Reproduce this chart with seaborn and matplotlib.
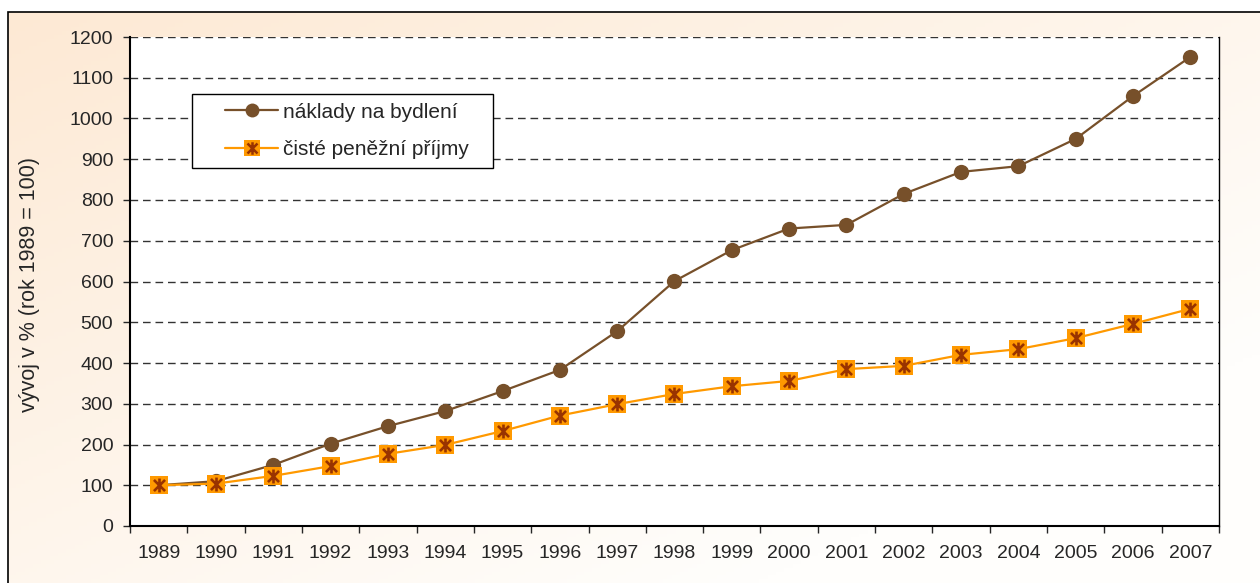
import numpy as np
import matplotlib
matplotlib.use('Agg')
import matplotlib.pyplot as plt
from matplotlib.path import Path
from matplotlib.lines import Line2D
from matplotlib.legend_handler import HandlerTuple
from matplotlib.patches import Rectangle
import seaborn as sns

# data (index, 1989 = 100)
roky = ['1989', '1990', '1991', '1992', '1993', '1994', '1995', '1996', '1997', '1998',
        '1999', '2000', '2001', '2002', '2003', '2004', '2005', '2006', '2007']
naklady = [100, 110, 150, 202, 245, 282, 331, 383, 478, 601,
           677, 730, 739, 815, 869, 883, 950, 1055, 1151]
prijmy = [100, 104, 123, 147, 177, 199, 233, 271, 299, 324,
          343, 356, 385, 393, 420, 434, 461, 496, 533]

hneda = '#77502A'
oranzova = '#FF9900'
tmava = '#993300'

sns.set_style('white')
plt.rcParams['font.family'] = ['Liberation Sans', 'DejaVu Sans']

fig = plt.figure(figsize=(12.6, 5.83), dpi=100)

# pozadi s prechodem a ramecek
bg = fig.add_axes([0, 0, 1, 1], zorder=-1)
bg.set_xlim(0, 1)
bg.set_ylim(0, 1)
bg.axis('off')
gx, gy = np.meshgrid(np.linspace(0, 1, 300), np.linspace(0, 1, 150))
t = np.clip((gx + gy) / 1.6, 0, 1)[..., None]
c1 = np.array([253, 233, 212]) / 255
c2 = np.array([255, 254, 252]) / 255
img = c1 * (1 - t) + c2 * t
x0, y1 = 8 / 1260, 571 / 583
bg.imshow(img, extent=[x0, 1, 0, y1], aspect='auto', origin='upper')
bg.add_patch(Rectangle((x0, -0.01), 1.0, y1 + 0.01, fill=False, ec='black', lw=1.2))

ax = fig.add_axes([130 / 1260, 57 / 583, 1089 / 1260, 489 / 583])
ax.set_facecolor('white')

x = np.arange(len(roky))
sns.lineplot(x=x, y=naklady, color=hneda, lw=1.6, marker='o', markersize=11,
             markeredgecolor=hneda, markeredgewidth=0, ax=ax, zorder=3)
sns.lineplot(x=x, y=prijmy, color=oranzova, lw=1.6, marker='s', markersize=13,
             markeredgecolor=oranzova, markeredgewidth=0, ax=ax, zorder=4)

# hvezdicka uvnitr ctverecku
hv = Path([(-1, -1), (1, 1), (-1, 1), (1, -1), (0, -1.25), (0, 1.25)],
          [Path.MOVETO, Path.LINETO, Path.MOVETO, Path.LINETO, Path.MOVETO, Path.LINETO])
ax.plot(x, prijmy, ls='none', marker=hv, ms=10, mfc='none', mec=tmava, mew=1.9, zorder=5)

ax.set_xlim(-0.5, len(roky) - 0.5)
ax.set_ylim(0, 1200)
ax.set_yticks(range(0, 1201, 100))
ax.set_xticks(x)
ax.set_xticklabels(roky)
ax.set_xticks(np.arange(-0.5, len(roky), 1), minor=True)
ax.tick_params(axis='x', which='major', length=0, pad=14, labelsize=14)
ax.tick_params(axis='x', which='minor', length=5, width=1, direction='out', bottom=True)
ax.tick_params(axis='y', length=5, width=1, direction='out', left=True, pad=7, labelsize=14)

ax.grid(axis='y', color='#333333', lw=1, ls=(0, (5.5, 3.5)))
ax.grid(axis='x', visible=False)
ax.set_axisbelow(True)

for s in ['left', 'bottom', 'right']:
    ax.spines[s].set_visible(True)
    ax.spines[s].set_color('black')
ax.spines['left'].set_linewidth(1.5)
ax.spines['bottom'].set_linewidth(1.5)
ax.spines['right'].set_linewidth(1)
ax.spines['top'].set_visible(False)

ax.set_ylabel('vývoj v % (rok 1989 = 100)', fontsize=15.5)
ax.yaxis.set_label_coords(-0.083, 0.493)

# ramecek legendy
ax.add_patch(Rectangle((0.0569, 0.732), 0.2764, 0.1513, transform=ax.transAxes,
                       fc='white', ec='black', lw=1, zorder=6))

h1 = Line2D([], [], color=hneda, lw=1.6, marker='o', ms=10, mec=hneda, mew=0)
h2a = Line2D([], [], color=oranzova, lw=1.6, marker='s', ms=12, mec=oranzova, mew=0)
h2b = Line2D([], [], ls='none', marker=hv, ms=9, mfc='none', mec=tmava, mew=1.8)
leg = ax.legend([h1, (h2a, h2b)], ['náklady na bydlení', 'čisté peněžní příjmy'],
                handler_map={tuple: HandlerTuple(ndivide=1)},
                loc='upper left', bbox_to_anchor=(0.0872, 0.866), borderaxespad=0,
                fontsize=15, frameon=False, handlelength=2.55, labelspacing=0.9,
                borderpad=0, handletextpad=0.25)
leg.set_zorder(7)

fig.savefig('out.png', dpi=100)
